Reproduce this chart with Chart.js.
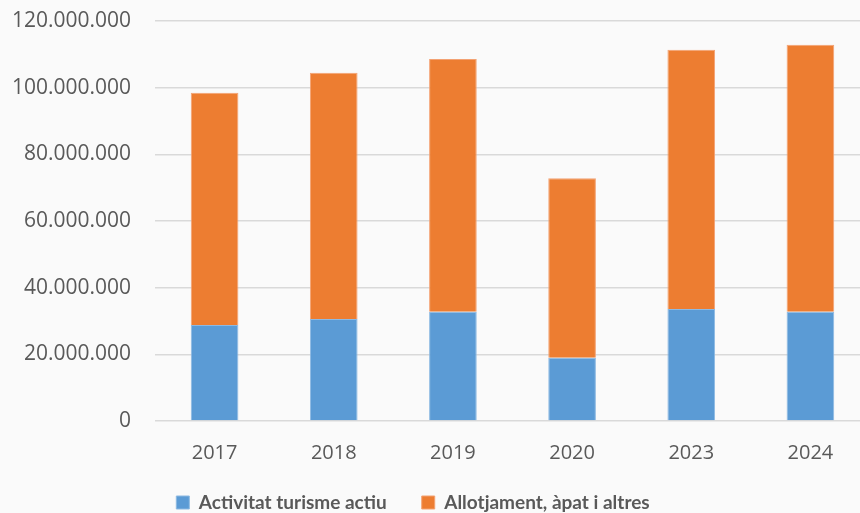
<!DOCTYPE html>
<html>
<head>
<meta charset="utf-8">
<script src="https://cdn.jsdelivr.net/npm/chart.js@4"></script>
<style>
  html, body { margin: 0; padding: 0; background: #fafafa; }
  #wrap { width: 860px; height: 513px; overflow: hidden; position: relative; }
  #box { width: 872px; height: 525px; position: absolute; left: 0; top: 0; }
</style>
</head>
<body>
<div id="wrap"><div id="box"><canvas id="tourismChart"></canvas></div></div>
<script>
const years = ['2017', '2018', '2019', '2020', '2023', '2024'];
const activeTourism = [28800000, 30600000, 32800000, 19000000, 33600000, 32800000];
const lodgingFood = [69700000, 73900000, 75800000, 53800000, 77800000, 80100000];
const yTicks = [0, 20000000, 40000000, 60000000, 80000000, 100000000, 120000000];

// thousands separated with dots
function fmt(v) {
    return String(v).replace(/\B(?=(\d{3})+(?!\d))/g, '.');
}

// nudge the legend a little left and up
const shiftLegend = {
    id: 'shiftLegend',
    afterLayout(chart) {
        chart.legend.left -= 22;
        chart.legend.right -= 22;
        chart.legend.top -= 3;
        chart.legend.bottom -= 3;
    }
};

const ctx = document.getElementById('tourismChart').getContext('2d');
new Chart(ctx, {
    type: 'bar',
    data: {
        labels: years,
        datasets: [{
            label: 'Activitat turisme actiu',
            data: activeTourism,
            backgroundColor: '#5B9BD5',
            borderColor: '#8db9e2',
            borderWidth: 1
        }, {
            label: 'Allotjament, àpat i altres',
            data: lodgingFood,
            backgroundColor: '#ED7D31',
            borderColor: '#f3a273',
            borderWidth: 1
        }]
    },
    options: {
        responsive: true,
        maintainAspectRatio: false,
        animation: false,
        layout: { padding: { top: 21, right: 2, left: 0, bottom: 0 } },
        datasets: { bar: { barPercentage: 0.4, categoryPercentage: 1 } },
        plugins: {
            tooltip: { enabled: false },
            legend: {
                position: 'bottom',
                labels: {
                    color: '#595959',
                    font: { family: 'Lato', size: 19, weight: 'bold' },
                    boxWidth: 13,
                    boxHeight: 13,
                    padding: 35
                }
            }
        },
        scales: {
            x: {
                stacked: true,
                grid: { display: false },
                border: { display: false },
                ticks: { color: '#595959', font: { family: 'Open Sans', size: 20 }, padding: 12 },
                afterFit(scale) { scale.height = 40; }
            },
            y: {
                stacked: true,
                min: 0,
                max: 120000000,
                afterBuildTicks(scale) { scale.ticks = yTicks.map(v => ({ value: v })); },
                grid: { color: '#d9d9d9', lineWidth: 1.5, drawTicks: false },
                border: { display: false },
                ticks: {
                    color: '#595959',
                    font: { family: 'Open Sans', size: 21 },
                    padding: 24,
                    callback: v => fmt(v)
                },
                afterFit(scale) {
                    scale.width = 155;
                    scale.paddingTop = 0;
                    scale.paddingBottom = 0;
                }
            }
        }
    },
    plugins: [shiftLegend]
});
</script>
</body>
</html>
